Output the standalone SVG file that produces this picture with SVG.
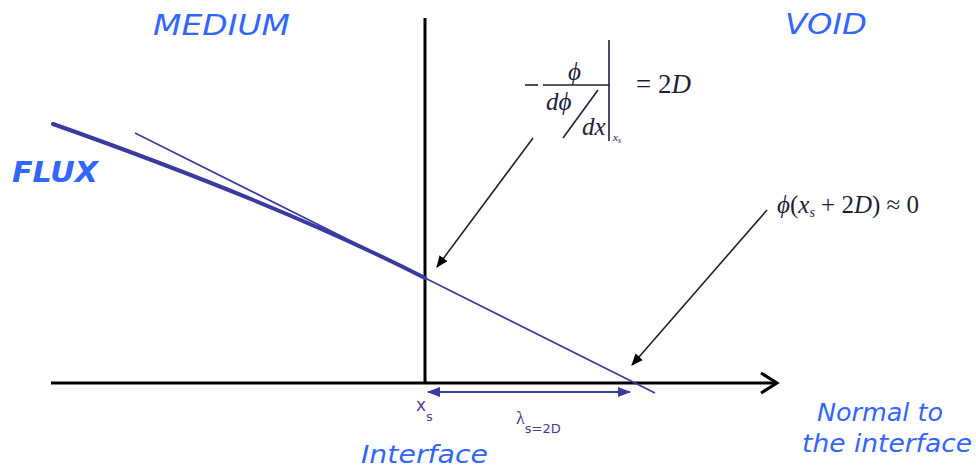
<svg xmlns="http://www.w3.org/2000/svg" width="976" height="469" viewBox="0 0 976 469">
<style>
.lbl{font-family:"DejaVu Sans","Liberation Sans",sans-serif;font-style:italic;fill:#3366ff;}
.math{font-family:"Liberation Serif","Times New Roman",serif;fill:#1e1e3a;}
.it{font-style:italic;}
.axis{stroke:#000;stroke-width:3;fill:none;}
.ptr{stroke:#222;stroke-width:1.6;fill:none;marker-end:url(#blk);}
</style>
<defs>
<marker id="blk" viewBox="0 0 12 10" refX="11" refY="5" markerWidth="12" markerHeight="10" markerUnits="userSpaceOnUse" orient="auto">
<path d="M0,0 L12,5 L0,10 Z" fill="#000"/>
</marker>
<marker id="blu" viewBox="0 0 13 10" refX="12" refY="5" markerWidth="13" markerHeight="10" markerUnits="userSpaceOnUse" orient="auto-start-reverse">
<path d="M0,0 L13,5 L0,10 Z" fill="#3a3aa0"/>
</marker>
</defs>

<g id="axes">
<line class="axis" x1="425" y1="18" x2="425" y2="383"/>
<line class="axis" x1="51" y1="383" x2="776" y2="383"/>
<polyline class="axis" points="761,373 777,383 761,393"/>
</g>

<g id="flux-curve">
<path d="M53,124 Q282,205 425,278" stroke="#3a3aa0" stroke-width="4" fill="none" stroke-linecap="round"/>
<line x1="135" y1="133" x2="655" y2="393" stroke="#3a3aa0" stroke-width="1.6"/>
</g>

<g id="connectors">
<line class="ptr" x1="533" y1="138" x2="437" y2="267"/>
<line class="ptr" x1="767" y1="210" x2="632" y2="365"/>
<line x1="428" y1="392" x2="630" y2="392" stroke="#3a3aa0" stroke-width="2" marker-start="url(#blu)" marker-end="url(#blu)"/>
</g>

<g id="labels">
<text class="lbl" x="153" y="35" font-size="29" textLength="137" lengthAdjust="spacingAndGlyphs">MEDIUM</text>
<text class="lbl" x="785" y="34" font-size="29" textLength="82" lengthAdjust="spacingAndGlyphs">VOID</text>
<text class="lbl" x="12" y="182" font-size="29" font-weight="bold" textLength="86" lengthAdjust="spacingAndGlyphs">FLUX</text>
<text class="lbl" x="361" y="463" font-size="25" textLength="127" lengthAdjust="spacingAndGlyphs">Interface</text>
<text class="lbl" x="817" y="421" font-size="24" textLength="126" lengthAdjust="spacingAndGlyphs">Normal to</text>
<text class="lbl" x="802" y="452" font-size="24" textLength="170" lengthAdjust="spacingAndGlyphs">the interface</text>
</g>

<g id="xs-label">
<text class="lbl" x="416" y="411" font-size="17" style="font-style:normal;fill:#5a3d8a">x<tspan dy="10" font-size="13">s</tspan></text>
</g>
<g id="lambda-label">
<text x="516" y="424" font-size="18" style="font-family:'Liberation Serif',serif;fill:#4b3b8f">λ<tspan dy="9" font-size="13" style="font-family:'DejaVu Sans',sans-serif">s=2D</tspan></text>
</g>

<g id="formula-extrapolation">
<line x1="525" y1="85" x2="538" y2="85" stroke="#1e1e3a" stroke-width="1.6"/>
<line x1="543" y1="85" x2="609" y2="85" stroke="#1e1e3a" stroke-width="1.6"/>
<text class="math it" x="568" y="80" font-size="25">ϕ</text>
<text class="math it" x="546" y="110" font-size="25">dϕ</text>
<line x1="598" y1="90" x2="563" y2="138" stroke="#1e1e3a" stroke-width="1.6"/>
<text class="math it" x="582" y="135" font-size="25">dx</text>
<line x1="609" y1="40" x2="609" y2="141" stroke="#1e1e3a" stroke-width="1.6"/>
<text class="math it" x="613" y="141" font-size="11">x<tspan font-size="8" dy="2">s</tspan></text>
<text class="math" x="636" y="93" font-size="27">= 2<tspan class="it">D</tspan></text>
</g>

<g id="formula-void">
<text class="math" x="777" y="213" font-size="25"><tspan class="it">ϕ</tspan>(<tspan class="it">x</tspan><tspan class="it" font-size="14" dy="4">s</tspan><tspan dy="-4"> + 2</tspan><tspan class="it">D</tspan>) ≈ 0</text>
</g>
</svg>
